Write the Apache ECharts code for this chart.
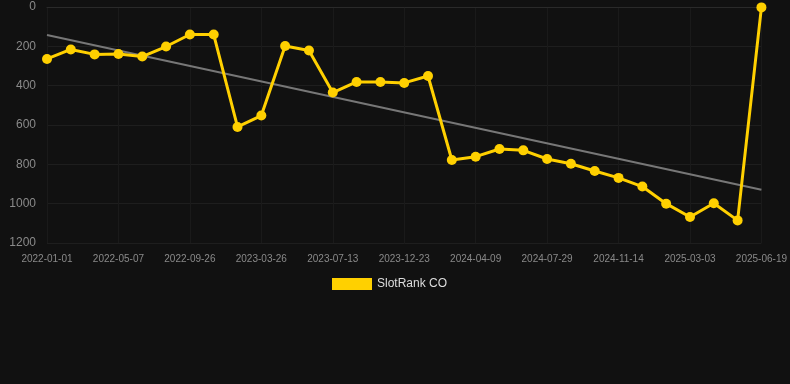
<!DOCTYPE html>
<html>
<head>
<meta charset="utf-8">
<script src="https://cdn.jsdelivr.net/npm/echarts@6/dist/echarts.min.js"></script>
<style>
html,body{margin:0;padding:0;background:#111111;}
#chart{width:790px;height:384px;}
</style>
</head>
<body>
<div id="chart"></div>
<script>
const dates = [
  "2022-01-01","2022-02-12","2022-03-26","2022-05-07","2022-06-23","2022-08-09",
  "2022-09-26","2022-11-20","2023-01-22","2023-03-26","2023-04-30","2023-06-06",
  "2023-07-13","2023-09-05","2023-10-30","2023-12-23","2024-01-28","2024-03-04",
  "2024-04-09","2024-05-16","2024-06-22","2024-07-29","2024-09-03","2024-10-09",
  "2024-11-14","2024-12-20","2025-01-25","2025-03-03","2025-04-08","2025-05-14",
  "2025-06-19"
];
const rankCO = [
  264,216,241,239,252,201,140,140,610,552,
  198,221,435,381,381,386,351,778,761,722,
  729,773,797,834,869,913,1000,1068,998,1085,
  2
];
const trendEnds = [142, 929];
const yTicks = [0, 200, 400, 600, 800, 1000, 1200];

const chart = echarts.init(document.getElementById('chart'));
chart.setOption({
  backgroundColor: '#111111',
  animation: false,
  grid: { left: 47, right: 28, top: 7, bottom: 141, containLabel: false },
  legend: {
    data: [{ name: 'SlotRank CO', icon: 'rect' }],
    top: 273,
    left: 327,
    itemWidth: 40,
    itemHeight: 12,
    itemGap: 10,
    textStyle: { color: '#dddddd', fontSize: 12, fontFamily: 'Liberation Sans, Arial, sans-serif' }
  },
  xAxis: {
    type: 'category',
    data: dates,
    boundaryGap: false,
    axisLine: { show: true, lineStyle: { color: '#2a2a2a', width: 1 } },
    axisTick: { show: false },
    axisLabel: {
      interval: 2,
      color: '#8a8a8a',
      fontSize: 10,
      margin: 11,
      fontFamily: 'Liberation Sans, Arial, sans-serif'
    },
    splitLine: { show: true, interval: 2, lineStyle: { color: '#1a1a1a', width: 1 } }
  },
  yAxis: {
    type: 'value',
    inverse: true,
    min: yTicks[0],
    max: yTicks[yTicks.length - 1],
    interval: 200,
    axisLine: { show: false },
    axisTick: { show: false },
    axisLabel: {
      color: '#8a8a8a',
      fontSize: 12,
      margin: 11,
      fontFamily: 'Liberation Sans, Arial, sans-serif',
      formatter: function (v) { return String(v); }
    },
    splitLine: { lineStyle: { color: '#1e1e1e', width: 1 } }
  },
  series: [
    {
      name: 'Trend',
      type: 'line',
      data: [[dates[0], trendEnds[0]], [dates[dates.length - 1], trendEnds[1]]],
      showSymbol: false,
      symbol: 'none',
      lineStyle: { color: '#777777', width: 2 },
      z: 1,
      silent: true
    },
    {
      name: 'SlotRank CO',
      type: 'line',
      data: rankCO,
      symbol: 'circle',
      symbolSize: 10,
      itemStyle: { color: '#ffd000' },
      lineStyle: { color: '#ffd000', width: 3 },
      z: 2
    }
  ]
});
</script>
</body>
</html>
